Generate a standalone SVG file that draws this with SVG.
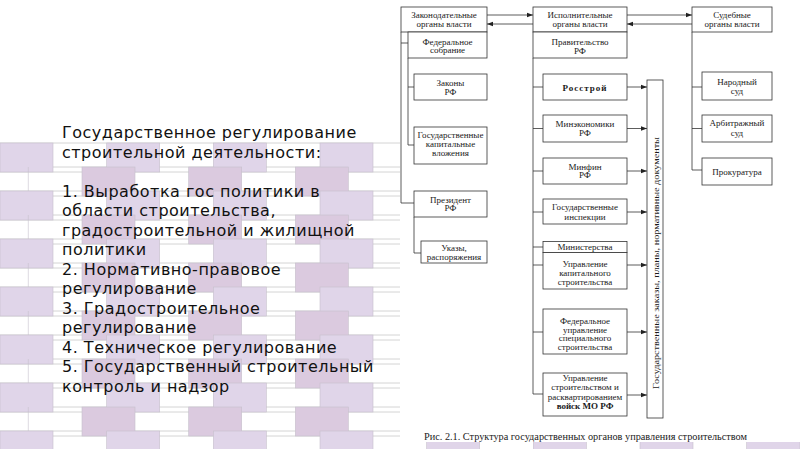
<svg xmlns="http://www.w3.org/2000/svg" xmlns:xlink="http://www.w3.org/1999/xlink" width="800" height="449" viewBox="0 0 800 449">
<style>
.bx{fill:#fff;stroke:#333;stroke-width:0.8}
.t{font-family:"Liberation Serif","Times New Roman",serif;font-size:9px;fill:#1a1a1a;text-anchor:middle}
.ln{fill:none;stroke:#333;stroke-width:0.8}
.ev{fill:#e0d5e9;stroke:#c6c0cc;stroke-width:0.6}
.od{fill:#dbcadf;stroke:#c6c0cc;stroke-width:0.6}
.main{font-family:"DejaVu Sans",sans-serif;font-size:16px;fill:#111;letter-spacing:0.5px}
</style>
<defs>
<marker id="ah" viewBox="0 0 6 6" refX="6" refY="3" markerWidth="6" markerHeight="6" orient="auto" markerUnits="userSpaceOnUse"><path d="M0,0.8 L6,3 L0,5.2 z" fill="#222"/></marker>
<g id="rowE">
<rect class="ev" x="0" y="0" width="53" height="29"/><rect class="ev" x="106.7" y="0" width="53" height="29"/><rect class="ev" x="213.3" y="0" width="53" height="29"/><rect class="ev" x="320" y="0" width="53" height="29"/><rect class="ev" x="426.7" y="0" width="53" height="29"/><rect class="ev" x="533.3" y="0" width="53" height="29"/><rect class="ev" x="640" y="0" width="53" height="29"/><rect class="ev" x="746.7" y="0" width="53.3" height="29"/>
</g>
<g id="rowO">
<path d="M28.3,0 V29" stroke="#c6c0cc" stroke-width="0.6"/>
<rect class="od" x="82" y="0" width="53" height="29"/><rect class="od" x="188.7" y="0" width="53" height="29"/><rect class="od" x="295.3" y="0" width="53" height="29"/><rect class="od" x="402" y="0" width="53" height="29"/>
</g>
</defs>
<rect width="800" height="449" fill="#fff"/>
<g id="background">
<path d="M0,143H800M0,167H800M0,172H800M0,191H800M0,196H800M0,215H800M0,220H800M0,239H800M0,244H800M0,263H800M0,268H800M0,287H800M0,292H800M0,311H800M0,316H800M0,335H800M0,340H800M0,359H800M0,364H800M0,383H800M0,388H800M0,407H800M0,412H800M0,431H800M0,436H800" stroke="#c9c9c9" stroke-width="0.8"/>
<use xlink:href="#rowE" y="143"/><use xlink:href="#rowO" y="167"/>
<use xlink:href="#rowE" y="191"/><use xlink:href="#rowO" y="215"/>
<use xlink:href="#rowE" y="239"/><use xlink:href="#rowO" y="263"/>
<use xlink:href="#rowE" y="287"/><use xlink:href="#rowO" y="311"/>
<use xlink:href="#rowE" y="335"/><use xlink:href="#rowO" y="359"/>
<use xlink:href="#rowE" y="383"/><use xlink:href="#rowO" y="407"/>
<use xlink:href="#rowE" y="431"/>
</g>
<text class="main">
<tspan x="62" y="138">Государственное регулирование</tspan>
<tspan x="62" y="157.5">строительной деятельности:</tspan>
<tspan x="62" y="196.5">1. Выработка гос политики в</tspan>
<tspan x="62" y="216">области строительства,</tspan>
<tspan x="62" y="235.5">градостроительной и жилищной</tspan>
<tspan x="62" y="255">политики</tspan>
<tspan x="62" y="274.5">2. Нормативно-правовое</tspan>
<tspan x="62" y="294">регулирование</tspan>
<tspan x="62" y="313.5">3. Градостроительное</tspan>
<tspan x="62" y="333">регулирование</tspan>
<tspan x="62" y="352.5">4. Техническое регулирование</tspan>
<tspan x="62" y="372">5. Государственный строительный</tspan>
<tspan x="62" y="391.5">контроль и надзор</tspan>
</text>
<rect x="400" y="0" width="400" height="442" fill="#fff"/>
<g id="connectors">
<path class="ln" d="M401,32V203H414M401,43H408M408,58V145H414M408,87H414M414,217V253H421"/>
<path class="ln" d="M533,58V394H543M533,87H543M533,128.5H543M533,171H543M533,212H543M533,247H543M533,265H543M533,332H543"/>
<path class="ln" d="M692,32V170H702M692,87H702M692,128.5H702"/>
<path class="ln" marker-end="url(#ah)" d="M487,15H533"/>
<path class="ln" marker-end="url(#ah)" d="M533,24H487"/>
<path class="ln" marker-end="url(#ah)" d="M627,15H692"/>
<path class="ln" marker-end="url(#ah)" d="M692,24H627"/>
<path class="ln" marker-end="url(#ah)" d="M627,87H647"/>
<path class="ln" marker-end="url(#ah)" d="M627,128.5H647"/>
<path class="ln" marker-end="url(#ah)" d="M627,171H647"/>
<path class="ln" marker-end="url(#ah)" d="M627,212H647"/>
<path class="ln" marker-end="url(#ah)" d="M627,265H647"/>
<path class="ln" marker-end="url(#ah)" d="M627,332H647"/>
<path class="ln" marker-end="url(#ah)" d="M627,395H647"/>
</g>
<g id="leg_head"><rect class="bx" x="401" y="7" width="86" height="25"/><text class="t" x="444" y="18">Законодательные</text><text class="t" x="444" y="27">органы власти</text></g>
<g id="fed"><rect class="bx" x="408" y="32" width="79" height="26"/><text class="t" x="447.5" y="44.5">Федеральное</text><text class="t" x="447.5" y="53">собрание</text></g>
<g id="laws"><rect class="bx" x="414" y="74" width="73" height="26"/><text class="t" x="450.5" y="86">Законы</text><text class="t" x="450.5" y="94.5">РФ</text></g>
<g id="gkv"><rect class="bx" x="414" y="127" width="73" height="37"/><text class="t" x="450.5" y="138">Государственные</text><text class="t" x="450.5" y="147">капитальные</text><text class="t" x="450.5" y="156">вложения</text></g>
<g id="pres"><rect class="bx" x="414" y="191" width="73" height="26"/><text class="t" x="450.5" y="202.5">Президент</text><text class="t" x="450.5" y="211">РФ</text></g>
<g id="ukaz"><rect class="bx" x="421" y="241" width="66" height="22"/><text class="t" x="454" y="251">Указы,</text><text class="t" x="454" y="260">распоряжения</text></g>
<g id="exec_head"><rect class="bx" x="533" y="7" width="94" height="25"/><text class="t" x="580" y="18">Исполнительные</text><text class="t" x="580" y="27">органы власти</text></g>
<g id="gov"><rect class="bx" x="533" y="32" width="94" height="26"/><text class="t" x="580" y="44.5">Правительство</text><text class="t" x="580" y="53.5">РФ</text></g>
<g id="rosstroy"><rect class="bx" x="543" y="74" width="84" height="26"/><text class="t" x="585" y="90.5" font-weight="bold" letter-spacing="1">Росстрой</text></g>
<g id="minek"><rect class="bx" x="543" y="115" width="84" height="27"/><text class="t" x="585" y="127">Минэкономики</text><text class="t" x="585" y="136">РФ</text></g>
<g id="minfin"><rect class="bx" x="543" y="158" width="84" height="26"/><text class="t" x="585" y="169.5">Минфин</text><text class="t" x="585" y="178">РФ</text></g>
<g id="insp"><rect class="bx" x="543" y="199" width="84" height="25"/><text class="t" x="585" y="210">Государственные</text><text class="t" x="585" y="219.5">инспекции</text></g>
<g id="minist"><rect class="bx" x="543" y="241.5" width="84" height="11"/><text class="t" x="585" y="250">Министерства</text></g>
<g id="uks"><rect class="bx" x="543" y="252.5" width="84" height="36.5"/><text class="t" x="585" y="266.5">Управление</text><text class="t" x="585" y="275.5">капитального</text><text class="t" x="585" y="284.5">строительства</text></g>
<g id="fuss"><rect class="bx" x="543" y="309" width="84" height="45"/><text class="t" x="585" y="324">Федеральное</text><text class="t" x="585" y="332.5">управление</text><text class="t" x="585" y="341">специального</text><text class="t" x="585" y="349.5">строительства</text></g>
<g id="mo"><rect class="bx" x="543" y="373" width="84" height="43"/><text class="t" x="585" y="381">Управление</text><text class="t" x="585" y="390">строительством и</text><text class="t" x="585" y="399.5">расквартированием</text><text class="t" x="585" y="409" font-weight="bold">войск МО РФ</text></g>
<g id="docs"><rect class="bx" x="647" y="80" width="16" height="338"/><text class="t" transform="translate(658.5,263) rotate(-90)" x="0" y="0" font-size="9.5" textLength="252" lengthAdjust="spacingAndGlyphs">Государственные заказы, планы, нормативные документы</text></g>
<g id="jud_head"><rect class="bx" x="692" y="7" width="80" height="25"/><text class="t" x="732" y="18">Судебные</text><text class="t" x="732" y="27">органы власти</text></g>
<g id="nar"><rect class="bx" x="702" y="72" width="70" height="28"/><text class="t" x="737" y="84.5">Народный</text><text class="t" x="737" y="93.5">суд</text></g>
<g id="arb"><rect class="bx" x="702" y="115" width="70" height="27"/><text class="t" x="737" y="126">Арбитражный</text><text class="t" x="737" y="136">суд</text></g>
<g id="prok"><rect class="bx" x="702" y="158" width="70" height="27"/><text class="t" x="737" y="174.5">Прокуратура</text></g>
<text x="424" y="440" font-family="Liberation Serif, serif" font-size="9.5" fill="#1a1a1a" textLength="323" lengthAdjust="spacingAndGlyphs">Рис. 2.1. Структура государственных органов управления строительством</text>
</svg>
